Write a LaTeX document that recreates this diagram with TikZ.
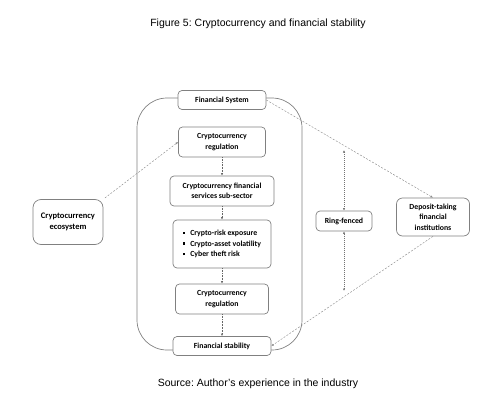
\documentclass[tikz,border=0pt]{standalone}
\usepackage{fontspec}
\setmainfont{Carlito}
\newfontfamily\arialf{Liberation Sans}
\usetikzlibrary{arrows.meta}
\frenchspacing
\begin{document}
\begin{tikzpicture}[x=1pt,y=-1pt,
  box/.style={draw=black!50, line width=0.7pt, rounded corners=4pt, fill=white,
    font=\bfseries\fontsize{7.8}{10.5}\selectfont, align=center, inner sep=0pt},
  flow/.style={draw=black!60, densely dotted, line width=0.55pt, -{Latex[length=2.5pt,width=2.2pt]}},
  flowboth/.style={draw=black!55, dash pattern=on 1pt off 1pt, line width=0.5pt, {Latex[length=2.5pt,width=2.2pt]}-{Latex[length=2.5pt,width=2.2pt]}},
  link/.style={draw=black!45, dash pattern=on 2pt off 1.5pt, line width=0.45pt, -{Latex[length=2.5pt,width=2.2pt]}},
  captext/.style={font=\arialf\fontsize{10.5}{12}\selectfont}]
\useasboundingbox (0,0) rectangle (502,412);

\node[captext] (title) at (258,24) {Figure 5: Cryptocurrency and financial stability};
\node[captext] (source) at (258,384) {Source: Author’s experience in the industry};

\draw[black!50, line width=0.7pt, rounded corners=30pt] (137,98) rectangle (302,350);

\node[box, minimum width=88, minimum height=19] (fs) at (222,100) {Financial System};
\node[box, minimum width=87, minimum height=30] (reg1) at (222,142) {Cryptocurrency\\regulation};
\node[box, minimum width=104, minimum height=30] (sub) at (222,191) {Cryptocurrency financial\\services sub-sector};
\node[box, minimum width=98, minimum height=48] (risk) at (222,244) {%
  \fontsize{7.8}{10.7}\selectfont
  \begin{tabular}{@{}l@{\hspace{5pt}}l@{}}
  \raisebox{1.6pt}{\rule{2.3pt}{2.3pt}} & Crypto-risk exposure\\
  \raisebox{1.6pt}{\rule{2.3pt}{2.3pt}} & Crypto-asset volatility\\
  \raisebox{1.6pt}{\rule{2.3pt}{2.3pt}} & Cyber theft risk
  \end{tabular}};
\node[box, minimum width=93, minimum height=30] (reg2) at (222,299) {Cryptocurrency\\regulation};
\node[box, minimum width=98, minimum height=19] (stab) at (222,346) {Financial stability};
\node[box, minimum width=70, minimum height=45, rounded corners=8pt, font=\bfseries\fontsize{8.5}{11.5}\selectfont] (eco) at (68,222) {Cryptocurrency\\ecosystem};
\node[box, minimum width=56, minimum height=20] (ring) at (344,221) {Ring-fenced};
\node[box, minimum width=73, minimum height=38, rounded corners=6pt] (dep) at (433,217) {Deposit-taking\\financial\\institutions};

\coordinate (rtop) at (344,150);
\coordinate (rbot) at (344,291);

\draw[flow] (reg1) -- (sub);
\draw[flow] (sub) -- (risk);
\draw[flow] (risk) -- (reg2);
\draw[flow] (reg2) -- (stab);
\draw[flowboth] (rtop) -- (ring.north);
\draw[flowboth] (ring.south) -- (rbot);

\draw[link, shorten <=2pt] (eco.north east) -- (reg1.west);
\draw[link] (fs.east) -- (dep.north);
\draw[link] (dep.south) -- (stab.east);
\end{tikzpicture}
\end{document}
